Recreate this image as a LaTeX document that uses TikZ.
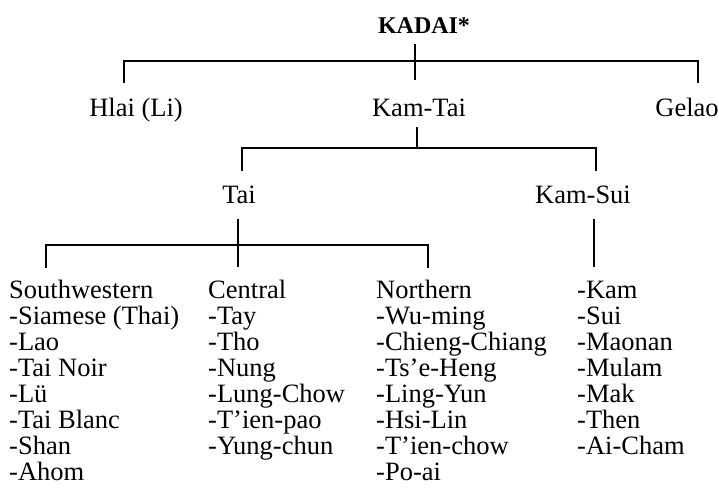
\documentclass[tikz,border=0pt]{standalone}
\usepackage{fontspec}
\setmainfont{Liberation Serif}
\newcommand{\langfont}{\fontsize{26.5}{26}\selectfont}
\newcommand{\headfont}{\fontsize{24}{26}\selectfont\bfseries}
\tikzset{
  branch/.style={line width=1.8pt},
  family/.style={font=\langfont, inner sep=0pt, anchor=base},
  item/.style={family, anchor=base west},
}

\begin{document}
\begin{tikzpicture}[x=1pt,y=-1pt]
    \useasboundingbox (0,0) rectangle (719,493);
    % groups
    \node[family, font=\headfont] (kadai) at (424,33) {KADAI*};
    \node[family] (hlai) at (136,116) {Hlai (Li)};
    \node[family] (kamtai) at (419,116) {Kam-Tai};
    \node[family] (gelao) at (687,116) {Gelao};
    \node[family] (tai) at (239,203) {Tai};
    \node[family] (kamsui) at (583,203) {Kam-Sui};
    % languages
    \foreach \name [count=\i from 0] in {Southwestern,-Siamese (Thai),-Lao,-Tai Noir,-Lü,-Tai Blanc,-Shan,-Ahom}
        \node[item] (sw-\i) at (9,298+26*\i) {\name};
    \foreach \name [count=\i from 0] in {Central,-Tay,-Tho,-Nung,-Lung-Chow,-T’ien-pao,-Yung-chun}
        \node[item] (ce-\i) at (208,298+26*\i) {\name};
    \foreach \name [count=\i from 0] in {Northern,-Wu-ming,-Chieng-Chiang,-Ts’e-Heng,-Ling-Yun,-Hsi-Lin,-T’ien-chow,-Po-ai}
        \node[item] (no-\i) at (376,298+26*\i) {\name};
    \foreach \name [count=\i from 0] in {-Kam,-Sui,-Maonan,-Mulam,-Mak,-Then,-Ai-Cham}
        \node[item] (ks-\i) at (577,298+26*\i) {\name};
    % KADAI
    \coordinate (kadai-stem) at (415,44);
    \coordinate (hlai-foot) at (124,83);
    \coordinate (gelao-foot) at (698,83);
    \draw[branch] (kadai-stem) -- ++(0,36);
    \draw[branch] (hlai-foot) |- (698,61) -- (gelao-foot);
    % Kam-Tai
    \coordinate (kamtai-stem) at (417,127);
    \coordinate (tai-foot) at (242,171);
    \coordinate (kamsui-foot) at (596,171);
    \draw[branch] (kamtai-stem) -- ++(0,21);
    \draw[branch] (tai-foot) |- (596,148) -- (kamsui-foot);
    % Tai
    \coordinate (tai-stem) at (238,219);
    \coordinate (sw-foot) at (46,268);
    \coordinate (no-foot) at (428,268);
    \draw[branch] (tai-stem) -- ++(0,48); % also Central
    \draw[branch] (sw-foot) |- (428,245) -- (no-foot);
    % Kam-Sui
    \coordinate (kamsui-stem) at (594,219);
    \draw[branch] (kamsui-stem) -- ++(0,48);
\end{tikzpicture}
\end{document}
